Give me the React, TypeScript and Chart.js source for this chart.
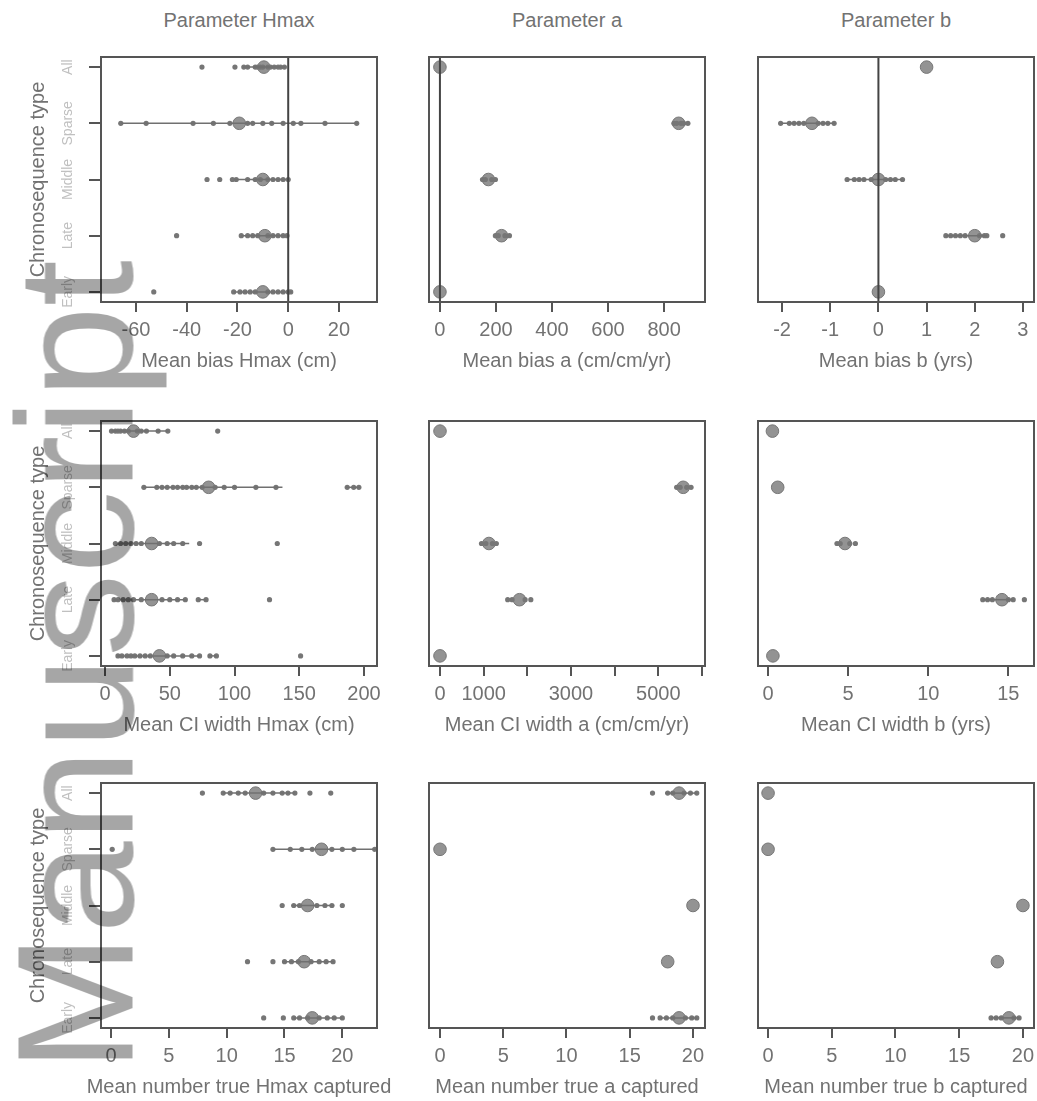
import React, { useEffect, useRef } from "react";
import { Chart, registerables } from "chart.js";
Chart.register(...registerables);

const FONT = '"Liberation Sans", Arial, sans-serif';
const TEXT = "#727272";
const FRAME = "#555555";

const categories = ["All", "Sparse", "Middle", "Late", "Early"];
const paramTitles = ["Parameter Hmax", "Parameter a", "Parameter b"];

// ---- Row 1: mean bias ----
const biasHmaxPoints = [
  [-34, -21, -17.5, -16, -13, -12, -11, -10, -8, -7, -5.5, -4, -3, -1.5],
  [-66, -56, -37.5, -29.5, -23, -16, -14, -10, -6.5, -2, 2, 5, 14.5, 27],
  [-32, -27, -22, -20.5, -16, -13, -11, -8, -6, -4, -2, 0],
  [-44, -18.5, -16, -14, -12, -8, -6, -4, -2, -0.5],
  [-53, -21.5, -19, -17, -15, -13, -8, -6, -4, -2, 0, 1],
];
const biasHmaxMeans = [-9.6, -19.3, -10, -9.2, -10];
const biasHmaxRanges = [[[-18, -1]], [[-66, 27.5]], [[-21.5, 0]], [[-18.5, -0.5]], [[-21.5, 1.5]]];

const biasAPoints = [[], [835, 845, 860, 870, 885], [152, 162, 185, 198], [198, 208, 232, 248], []];
const biasAMeans = [0, 852, 173, 220, 0];
const biasARanges = [[], [], [], [], []];

const biasBPoints = [
  [],
  [-2.03, -1.85, -1.75, -1.65, -1.55, -1.25, -1.15, -1.05, -0.92],
  [-0.65, -0.5, -0.4, -0.3, -0.15, 0.15, 0.25, 0.35, 0.5],
  [1.4, 1.5, 1.6, 1.7, 1.8, 2.1, 2.2, 2.25, 2.58],
  [],
];
const biasBMeans = [1.0, -1.38, 0, 2.0, 0];
const biasBRanges = [[], [[-2.03, -0.9]], [[-0.65, 0.5]], [[1.4, 2.25]], []];

// ---- Row 2: mean CI width ----
const ciHmaxPoints = [
  [5, 8, 10, 12, 15, 18, 25, 28, 32, 41, 48.5, 87],
  [30, 40, 44, 48, 52.5, 56, 60, 63, 67, 70.5, 75, 85, 92, 100, 116.5, 132, 187, 192, 196],
  [8, 12, 16, 20, 24, 28, 42, 48, 53, 60, 73, 133],
  [7, 10, 14, 18, 22, 28, 44, 50, 56, 62, 72, 78, 127],
  [10, 13, 17, 20, 23, 27, 31, 35, 48, 53, 60, 67, 73, 81, 86, 151],
];
const ciHmaxMeans = [22, 80, 36, 36, 42];
const ciHmaxRanges = [[[5, 49]], [[29, 137], [186, 197]], [[7.5, 65]], [[6.5, 63], [72, 78]], [[9.5, 73], [80, 86]]];

const ciAPoints = [[], [5420, 5500, 5650, 5750], [950, 1050, 1200, 1290], [1550, 1650, 1950, 2080], []];
const ciAMeans = [0, 5570, 1120, 1820, 0];
const ciARanges = [[], [], [], [], []];

const ciBPoints = [[], [], [4.3, 4.5, 5.1, 5.45], [13.4, 13.7, 14.0, 15.0, 15.3, 16.0], []];
const ciBMeans = [0.27, 0.6, 4.8, 14.6, 0.3];
const ciBRanges = [[], [], [], [[13.4, 15.3]], []];

// ---- Row 3: mean number true captured ----
const capHmaxPoints = [
  [7.9, 9.7, 10.3, 11, 11.6, 13.2, 14, 14.8, 15.3, 15.9, 17.2, 19],
  [0.1, 14, 15.5, 16.5, 17.4, 19.1, 20, 21, 22.8],
  [14.8, 15.8, 16.3, 17.8, 18.5, 19.1, 20],
  [11.8, 14, 15, 15.6, 16.2, 17.3, 18, 18.6, 19.2],
  [13.2, 14.9, 15.8, 16.3, 17, 18, 18.7, 19.3, 20],
];
const capHmaxMeans = [12.5, 18.2, 17, 16.7, 17.4];
const capHmaxRanges = [[[9.7, 15.9]], [[14, 23]], [[15.6, 19.3]], [[14.8, 19.3]], [[15.8, 20]]];

const capAPoints = [[16.8, 18, 18.4, 19.3, 19.8, 20.3], [], [], [], [16.8, 17.4, 17.9, 18.4, 19.4, 19.9, 20.3]];
const capAMeans = [18.9, 0, 20, 18, 18.9];
const capARanges = [[[17.8, 20.3]], [], [], [], [[17.4, 20.3]]];

const capBPoints = [[], [], [], [], [17.5, 17.9, 18.3, 19.3, 19.7]];
const capBMeans = [0, 0, 20, 18, 18.9];
const capBRanges = [[], [], [], [], [[17.5, 19.8]]];

// ---- Axes ----
const xTicks1 = [-60, -40, -20, 0, 20];
const xTicks2 = [0, 200, 400, 600, 800];
const xTicks3 = [-2, -1, 0, 1, 2, 3];
const xTicks4 = [0, 50, 100, 150, 200];
const xTicks5 = [0, 1000, 2000, 3000, 4000, 5000, 6000];
const xLabels5 = ["0", "1000", "", "3000", "", "5000", ""];
const xTicks6 = [0, 5, 10, 15];
const xTicksCount = [0, 5, 10, 15, 20];

const Y_MIN = 0.82;
const Y_MAX = 5.18;
const BOX_W = 276;
const BOX_H = 245;
const COL_LEFT = [101, 429, 758];
const ROW_TOP = [57, 421, 783];

type PanelCfg = {
  row: number;
  col: number;
  xMin: number;
  xMax: number;
  xTicks: number[];
  xLabels?: string[];
  xTitle: string;
  points: number[][];
  means: number[];
  ranges: number[][][];
  zeroLine: boolean;
};

const panels: PanelCfg[] = [
  { row: 0, col: 0, xMin: -73.8, xMax: 35, xTicks: xTicks1, xTitle: "Mean bias Hmax (cm)", points: biasHmaxPoints, means: biasHmaxMeans, ranges: biasHmaxRanges, zeroLine: true },
  { row: 0, col: 1, xMin: -39, xMax: 946, xTicks: xTicks2, xTitle: "Mean bias a (cm/cm/yr)", points: biasAPoints, means: biasAMeans, ranges: biasARanges, zeroLine: true },
  { row: 0, col: 2, xMin: -2.5, xMax: 3.23, xTicks: xTicks3, xTitle: "Mean bias b (yrs)", points: biasBPoints, means: biasBMeans, ranges: biasBRanges, zeroLine: true },
  { row: 1, col: 0, xMin: -3.1, xMax: 210, xTicks: xTicks4, xTitle: "Mean CI width Hmax (cm)", points: ciHmaxPoints, means: ciHmaxMeans, ranges: ciHmaxRanges, zeroLine: false },
  { row: 1, col: 1, xMin: -252, xMax: 6069, xTicks: xTicks5, xLabels: xLabels5, xTitle: "Mean CI width a (cm/cm/yr)", points: ciAPoints, means: ciAMeans, ranges: ciARanges, zeroLine: false },
  { row: 1, col: 2, xMin: -0.63, xMax: 16.6, xTicks: xTicks6, xTitle: "Mean CI width b (yrs)", points: ciBPoints, means: ciBMeans, ranges: ciBRanges, zeroLine: false },
  { row: 2, col: 0, xMin: -0.87, xMax: 23.0, xTicks: xTicksCount, xTitle: "Mean number true Hmax captured", points: capHmaxPoints, means: capHmaxMeans, ranges: capHmaxRanges, zeroLine: false },
  { row: 2, col: 1, xMin: -0.87, xMax: 20.95, xTicks: xTicksCount, xTitle: "Mean number true a captured", points: capAPoints, means: capAMeans, ranges: capARanges, zeroLine: false },
  { row: 2, col: 2, xMin: -0.79, xMax: 20.87, xTicks: xTicksCount, xTitle: "Mean number true b captured", points: capBPoints, means: capBMeans, ranges: capBRanges, zeroLine: false },
];

const PAD_T = 15;
const PAD_R = 60;
const AXIS_B = 80;

function Panel({ cfg }: { cfg: PanelCfg }) {
  const ref = useRef<HTMLCanvasElement | null>(null);
  const L = cfg.col === 0 ? COL_LEFT[0] : 60;
  const width = L + BOX_W + PAD_R;
  const height = PAD_T + BOX_H + AXIS_B;
  const left = COL_LEFT[cfg.col] - L;
  const top = ROW_TOP[cfg.row] - PAD_T;

  useEffect(() => {
    if (!ref.current) return;
    const datasets: any[] = [];
    if (cfg.zeroLine) {
      datasets.push({
        type: "line",
        data: [{ x: 0, y: Y_MIN }, { x: 0, y: Y_MAX }],
        borderColor: "#444444",
        borderWidth: 2,
        pointRadius: 0,
      });
    }
    cfg.ranges.forEach((segs, i) =>
      segs.forEach(([a, b]) =>
        datasets.push({
          type: "line",
          data: [{ x: a, y: i + 1 }, { x: b, y: i + 1 }],
          borderColor: "#707070",
          borderWidth: 1.5,
          pointRadius: 0,
        })
      )
    );
    datasets.push({
      type: "scatter",
      data: cfg.points.flatMap((row, i) => row.map((v) => ({ x: v, y: i + 1 }))),
      pointRadius: 2.6,
      backgroundColor: "#767676",
      borderWidth: 0,
    });
    datasets.push({
      type: "scatter",
      data: cfg.means.map((v, i) => ({ x: v, y: i + 1 })),
      pointRadius: 6.3,
      backgroundColor: "#939393",
      borderColor: "#777777",
      borderWidth: 1,
    });

    const showY = cfg.col === 0;
    const framePlugin = {
      id: "frame" + cfg.row + cfg.col,
      afterDraw(chart: any) {
        const { ctx, chartArea } = chart;
        const { left: l, top: t, right: r, bottom: b } = chartArea;
        ctx.save();
        ctx.strokeStyle = FRAME;
        ctx.lineWidth = 2;
        ctx.strokeRect(l, t, r - l, b - t);
        // x-axis title (drawn without width squeezing)
        ctx.fillStyle = TEXT;
        ctx.font = "20px " + FONT;
        ctx.textAlign = "center";
        ctx.textBaseline = "middle";
        ctx.fillText(cfg.xTitle, (l + r) / 2, b + 59);
        if (showY) {
          const ys = chart.scales.y;
          ctx.fillStyle = "#c0c0c0";
          ctx.font = "14px " + FONT;
          categories.forEach((c, i) => {
            const y = ys.getPixelForValue(i + 1);
            ctx.save();
            ctx.translate(l - 33, y);
            ctx.rotate(-Math.PI / 2);
            ctx.fillText(c, 0, 0);
            ctx.restore();
          });
        }
        ctx.restore();
      },
    };

    const chart = new Chart(ref.current, {
      type: "scatter",
      data: { datasets },
      plugins: [framePlugin],
      options: {
        animation: false,
        responsive: false,
        maintainAspectRatio: false,
        layout: { padding: { top: PAD_T, right: PAD_R, left: 0, bottom: 0 } },
        plugins: { legend: { display: false }, tooltip: { enabled: false } },
        scales: {
          x: {
            type: "linear",
            min: cfg.xMin,
            max: cfg.xMax,
            position: "bottom",
            afterBuildTicks: (s: any) => {
              s.ticks = cfg.xTicks.map((v) => ({ value: v }));
            },
            afterFit: (s: any) => {
              s.height = AXIS_B;
            },
            ticks: {
              autoSkip: false,
              maxRotation: 0,
              minRotation: 0,
              color: TEXT,
              font: { family: FONT, size: 20 },
              padding: 6,
              callback: (_v: any, i: number) => (cfg.xLabels ? cfg.xLabels[i] : String(cfg.xTicks[i])),
            },
            grid: { display: true, drawOnChartArea: false, drawTicks: true, tickLength: 10, color: FRAME, lineWidth: 2 },
            border: { display: true, color: FRAME, width: 2 },
            title: { display: false },
          },
          y: {
            type: "linear",
            min: Y_MIN,
            max: Y_MAX,
            reverse: true,
            position: "left",
            afterBuildTicks: (s: any) => {
              s.ticks = [1, 2, 3, 4, 5].map((v) => ({ value: v }));
            },
            afterFit: (s: any) => {
              s.width = L;
            },
            ticks: { display: false },
            grid: { display: showY, drawOnChartArea: false, drawTicks: true, tickLength: 12, color: FRAME, lineWidth: 2 },
            border: { display: false },
            title: {
              display: showY,
              text: "Chronosequence type",
              color: TEXT,
              font: { family: FONT, size: 20 },
              padding: { top: 26, bottom: 0 },
            },
          },
        },
      } as any,
    });
    return () => chart.destroy();
  }, []);

  return (
    <canvas
      ref={ref}
      width={width}
      height={height}
      style={{ position: "absolute", left, top, width, height }}
    />
  );
}

export default function App() {
  return (
    <div
      style={{
        position: "absolute",
        left: 0,
        top: 0,
        width: 1037,
        height: 1101,
        overflow: "hidden",
        background: "#ffffff",
        fontFamily: FONT,
      }}
    >
      {paramTitles.map((t, c) => (
        <div
          key={t}
          style={{
            position: "absolute",
            left: COL_LEFT[c],
            top: 8,
            width: BOX_W,
            textAlign: "center",
            fontSize: 20,
            lineHeight: "24px",
            color: TEXT,
          }}
        >
          {t}
        </div>
      ))}
      {panels.map((p) => (
        <Panel key={p.row + "-" + p.col} cfg={p} />
      ))}
      <div
        style={{
          position: "absolute",
          left: 0,
          top: 0,
          transformOrigin: "0 0",
          transform: "translate(-7.5px, 1072px) rotate(-90deg)",
          fontSize: 166,
          lineHeight: "166px",
          whiteSpace: "nowrap",
          color: "#a6a6a6",
          mixBlendMode: "multiply",
          zIndex: 10,
          pointerEvents: "none",
        }}
      >
        Manuscript
      </div>
    </div>
  );
}
